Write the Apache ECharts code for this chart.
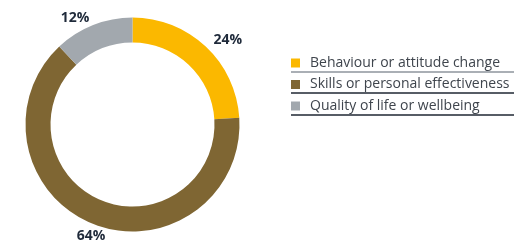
<!DOCTYPE html>
<html>
<head>
<meta charset="utf-8">
<script src="https://cdn.jsdelivr.net/npm/echarts@6/dist/echarts.min.js"></script>
<style>
  html, body { margin: 0; padding: 0; background: #fff; }
  #chart { width: 515px; height: 244px; }
</style>
</head>
<body>
<div id="chart"></div>
<script>
// data
var categories = ['Behaviour or attitude change', 'Skills or personal effectiveness', 'Quality of life or wellbeing'];
var values = [24, 64, 12];
var colors = ['#fbb800', '#7f6633', '#a2a8ae'];
var ruleColors = ['#8e949c', '#1f2733', '#1f2733'];

var pieData = [];
for (var i = 0; i < categories.length; i++) {
    pieData.push({ name: categories[i], value: values[i], itemStyle: { color: colors[i] } });
}

// rules under the legend rows
var ruleY = [72, 93, 115];
var rules = [];
for (var j = 0; j < ruleY.length; j++) {
    rules.push({
        type: 'line',
        shape: { x1: 291, y1: ruleY[j], x2: 514, y2: ruleY[j] },
        style: { stroke: ruleColors[j], lineWidth: 1.5 }
    });
}

var myChart = echarts.init(document.getElementById('chart'), null, { renderer: 'canvas' });
var option = {
    animation: false,
    legend: {
        orient: 'vertical',
        left: 291,
        top: 56,
        padding: 0,
        icon: 'rect',
        itemWidth: 9,
        itemHeight: 9,
        itemGap: 7.5,
        selectedMode: false,
        data: categories,
        textStyle: {
            fontFamily: 'Open Sans',
            fontSize: 14,
            lineHeight: 14,
            color: '#3f454d',
            padding: [0, 0, 0, 5]
        }
    },
    graphic: rules,
    series: [{
        type: 'pie',
        center: [132.5, 124.5],
        radius: [82, 107],
        startAngle: 90,
        clockwise: true,
        avoidLabelOverlap: false,
        silent: true,
        label: {
            show: true,
            position: 'outside',
            formatter: '{c}%',
            fontFamily: 'Open Sans',
            fontWeight: 'bold',
            fontSize: 14,
            color: '#1f2a3a'
        },
        labelLine: { show: false, length: 10, length2: 0 },
        labelLayout: function (params) {
            if (params.dataIndex === 0) {
                return { dx: -4, dy: 1 };
            }
            if (params.dataIndex === 1) {
                return { dx: 21, dy: 3 };
            }
            if (params.dataIndex === 2) {
                return { dx: 5, dy: 2 };
            }
        },
        data: pieData
    }]
};
myChart.setOption(option, true);
</script>
</body>
</html>
